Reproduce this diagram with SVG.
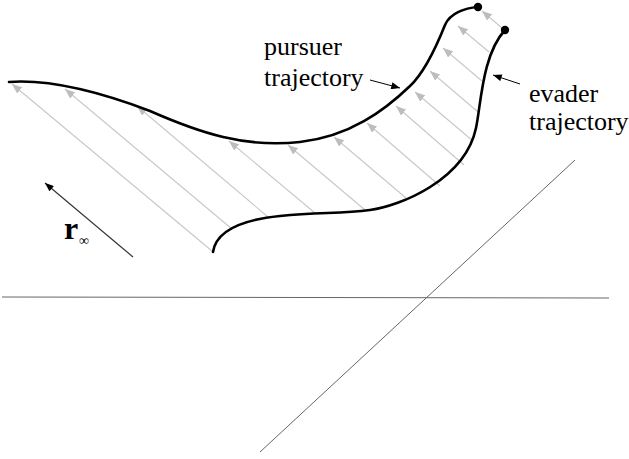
<svg xmlns="http://www.w3.org/2000/svg" width="629" height="459" viewBox="0 0 629 459">
<style>
.traj{fill:none;stroke:#000;stroke-width:2.6;stroke-linecap:round}
.ray{stroke:#c8c8c8;stroke-width:1.1;marker-end:url(#ga)}
.axis{stroke:#666;stroke-width:1;fill:none}
.lbl{font-family:"Liberation Serif","Times New Roman",serif;font-size:26px;fill:#000}
.ptr{stroke:#000;stroke-width:1;marker-end:url(#ba)}
</style>
<defs>
<marker id="ga" viewBox="0 0 10 8" refX="10" refY="4" markerWidth="10" markerHeight="8" markerUnits="userSpaceOnUse" orient="auto">
<path d="M0,0 L10,4 L0,8 Z" fill="#bdbdbd"/>
</marker>
<marker id="ba" viewBox="0 0 10 8" refX="10" refY="4" markerWidth="10" markerHeight="7" markerUnits="userSpaceOnUse" orient="auto">
<path d="M0,0 L10,4 L0,8 Z" fill="#000"/>
</marker>
</defs>
<rect width="629" height="459" fill="#fff"/>
<g id="axes">
<line class="axis" x1="2" y1="297" x2="609" y2="298"/>
<line class="axis" x1="575" y1="160" x2="260" y2="452"/>
</g>
<g id="connectors">
<line class="ray" x1="212" y1="251" x2="12" y2="84"/>
<line class="ray" x1="232" y1="229" x2="65" y2="89"/>
<line class="ray" x1="268" y1="217" x2="137" y2="106"/>
<line class="ray" x1="315" y1="213" x2="229" y2="141"/>
<line class="ray" x1="365" y1="210" x2="288" y2="145"/>
<line class="ray" x1="406" y1="198" x2="334" y2="137"/>
<line class="ray" x1="440" y1="186" x2="367" y2="123"/>
<line class="ray" x1="464" y1="165" x2="396" y2="106"/>
<line class="ray" x1="473" y1="141" x2="415" y2="92"/>
<line class="ray" x1="478" y1="112" x2="430" y2="71"/>
<line class="ray" x1="482" y1="81" x2="443" y2="48"/>
<line class="ray" x1="489" y1="52" x2="458" y2="26"/>
<line class="ray" x1="502" y1="28" x2="482" y2="11"/>
<line class="ptr" x1="370" y1="80" x2="400" y2="88"/>
<line class="ptr" x1="520" y1="84" x2="493" y2="75"/>
<line x1="133" y1="257" x2="45" y2="183" stroke="#333" stroke-width="1.2" marker-end="url(#ba)"/>
</g>
<g id="pursuer">
<path class="traj" d="M9,82 C50,79 100,92 150,111 C200,133 245,148 300,142 C350,136.5 385,110 410,86 C425,72 437,45 445,25 C450,13 465,8 478,7"/>
<circle cx="478" cy="7" r="4.2" fill="#000"/>
<text class="lbl" x="264" y="55">pursuer</text>
<text class="lbl" x="264" y="86">trajectory</text>
</g>
<g id="evader">
<path class="traj" d="M213,252 C216,232 240,220 280,216 C320,212 340,214 370,210 C400,206 465,180 476,128 C481,105 482,55 505,30"/>
<circle cx="505" cy="30" r="4.2" fill="#000"/>
<text class="lbl" x="529" y="102">evader</text>
<text class="lbl" x="529" y="130">trajectory</text>
</g>
<g id="r-infinity">
<text class="lbl" x="64" y="239" font-weight="bold" style="font-size:32px">r</text>
<text x="79" y="245" font-family="'Liberation Serif','Times New Roman',serif" font-size="14px">∞</text>
</g>
</svg>
